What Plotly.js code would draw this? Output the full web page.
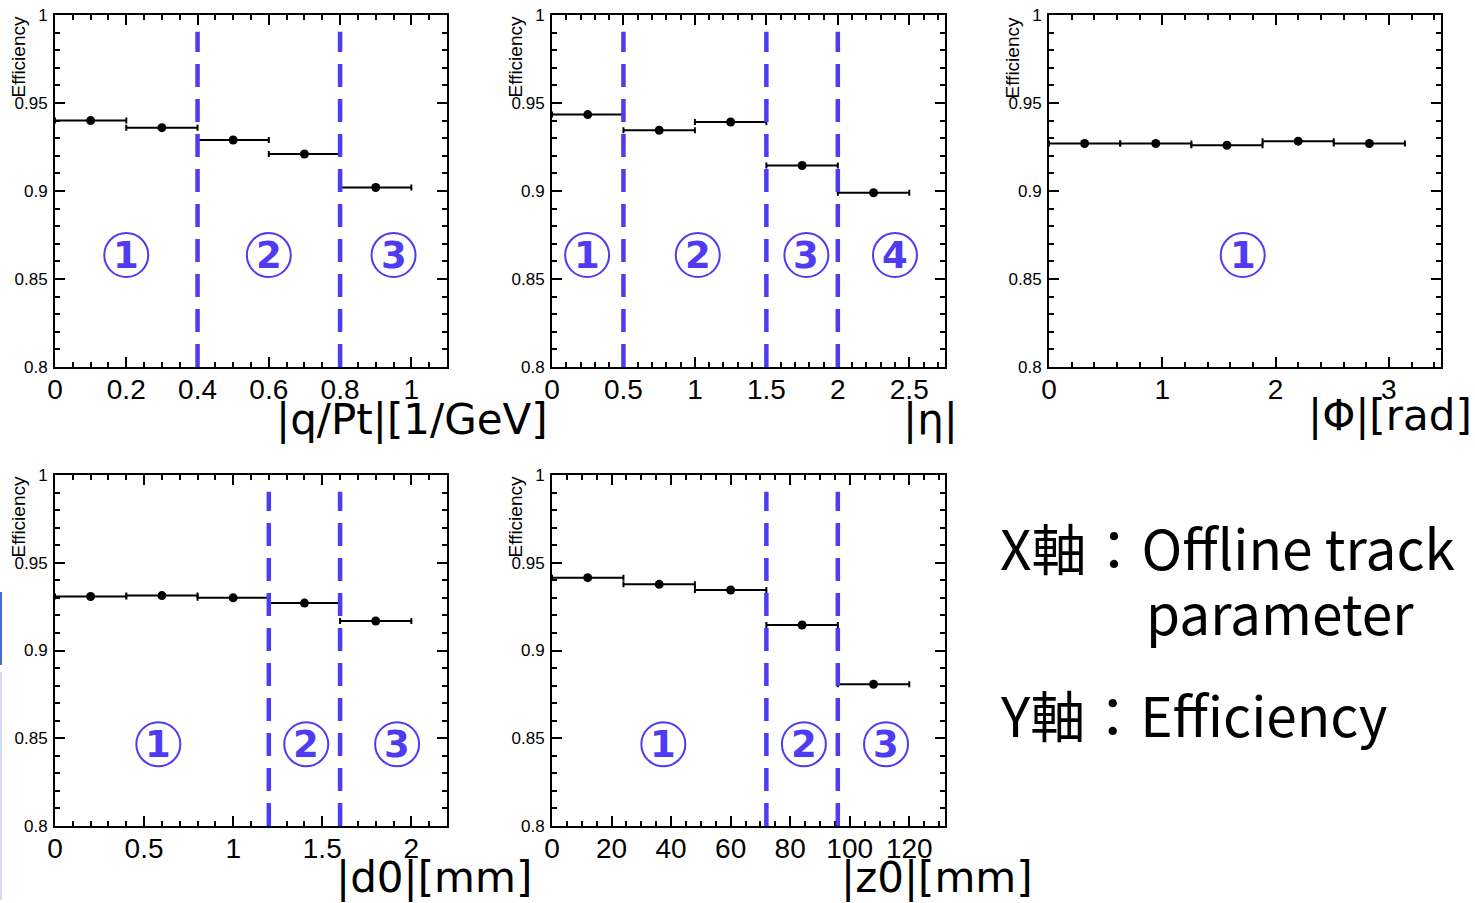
<!DOCTYPE html>
<html>
<head>
<meta charset="utf-8">
<script src="https://cdn.plot.ly/plotly-3.0.1.min.js"></script>
<style>html,body{margin:0;padding:0;background:#fff;}#chart{width:1475px;height:903px;}</style>
</head>
<body>
<div id="chart"></div>
<script>
// ---- data ----
const qptEdges = [0, 0.2, 0.4, 0.6, 0.8, 1.0];
const qptEff   = [0.940, 0.936, 0.929, 0.921, 0.902];
const qptCuts  = [0.4, 0.8];
const qptRegions = ['①', '②', '③'];

const etaEdges = [0, 0.5, 1.0, 1.5, 2.0, 2.5];
const etaEff   = [0.9434, 0.9345, 0.9392, 0.9145, 0.899];
const etaCuts  = [0.5, 1.5, 2.0];
const etaRegions = ['①', '②', '③', '④'];

const phiEdges = [0, 0.6283, 1.2566, 1.885, 2.5133, 3.1416];
const phiEff   = [0.927, 0.927, 0.926, 0.9283, 0.927];
const phiCuts  = [];
const phiRegions = ['①'];

const d0Edges = [0, 0.4, 0.8, 1.2, 1.6, 2.0];
const d0Eff   = [0.9308, 0.9313, 0.930, 0.927, 0.9168];
const d0Cuts  = [1.2, 1.6];
const d0Regions = ['①', '②', '③'];

const z0Edges = [0, 24, 48, 72, 96, 120];
const z0Eff   = [0.9415, 0.9377, 0.9345, 0.9145, 0.8808];
const z0Cuts  = [72, 96];
const z0Regions = ['①', '②', '③'];

const xTitles = ['|q/Pt|[1/GeV]', '|η|', '|Φ|[rad]', '|d0|[mm]', '|z0|[mm]'];
const yTitle = 'Efficiency';
const noteLines = ['X軸：Offline track', 'parameter', 'Y軸：Efficiency'];

// ---- layout helpers ----
const W = 1475, H = 903;
const px = v => v / W;
const py = v => 1 - v / H;
const BLUE = '#4f3cf2';

const panels = [
  {edges: qptEdges, eff: qptEff, cuts: qptCuts, regions: qptRegions, regX: [0.2, 0.6, 0.95],
   box: [55, 447, 15, 367], range: [0, 1.1], dtick: 0.2, minor: 0.05, title: xTitles[0], titleRight: 550, titleY: 420},
  {edges: etaEdges, eff: etaEff, cuts: etaCuts, regions: etaRegions, regX: [0.246, 1.02, 1.78, 2.4],
   box: [552, 945, 15, 367], range: [0, 2.75], dtick: 0.5, minor: 0.1, title: xTitles[1], titleRight: 960, titleY: 420},
  {edges: phiEdges, eff: phiEff, cuts: phiCuts, regions: phiRegions, regX: [1.71],
   box: [1049, 1441, 15, 367], range: [0, 3.46], dtick: 1, minor: 0.2, title: xTitles[2], titleRight: 1474, titleY: 415},
  {edges: d0Edges, eff: d0Eff, cuts: d0Cuts, regions: d0Regions, regX: [0.58, 1.41, 1.92],
   box: [55, 447, 475, 826], range: [0, 2.2], dtick: 0.5, minor: 0.1, title: xTitles[3], titleRight: 534, titleY: 877},
  {edges: z0Edges, eff: z0Eff, cuts: z0Cuts, regions: z0Regions, regX: [37.4, 84.6, 112.2],
   box: [552, 945, 475, 826], range: [0, 132], dtick: 20, minor: 5, title: xTitles[4], titleRight: 1035, titleY: 877}
];

const tickFont = {family: 'Liberation Sans, Arial, sans-serif', size: 28, color: '#000'};
const yTickFont = {family: 'Liberation Sans, Arial, sans-serif', size: 17, color: '#000'};

const data = [];
const layout = {
  width: W, height: H,
  margin: {l: 0, r: 0, t: 0, b: 0},
  paper_bgcolor: '#fff', plot_bgcolor: '#fff',
  showlegend: false,
  shapes: [], annotations: []
};

panels.forEach((p, i) => {
  const n = i + 1;
  const xa = 'xaxis' + (n === 1 ? '' : n);
  const ya = 'yaxis' + (n === 1 ? '' : n);
  const xr = 'x' + (n === 1 ? '' : n);
  const yr = 'y' + (n === 1 ? '' : n);
  const centers = [], half = [];
  for (let k = 0; k < p.eff.length; k++) {
    centers.push((p.edges[k] + p.edges[k + 1]) / 2);
    half.push((p.edges[k + 1] - p.edges[k]) / 2);
  }
  data.push({
    type: 'scatter', mode: 'markers', x: centers, y: p.eff, xaxis: xr, yaxis: yr,
    marker: {color: '#000', size: 9, symbol: 'circle'},
    error_x: {type: 'data', array: half, visible: true, color: '#000', thickness: 2, width: 3},
    error_y: {type: 'data', array: p.eff.map(() => 0.0006), visible: true, color: '#000', thickness: 2, width: 0},
    hoverinfo: 'skip'
  });
  layout[xa] = {
    domain: [px(p.box[0]), px(p.box[1])], anchor: yr, range: p.range,
    dtick: p.dtick, tick0: 0, ticks: 'inside', ticklen: 10, tickwidth: 2, tickcolor: '#000',
    minor: {dtick: p.minor, ticks: 'inside', ticklen: 5, tickwidth: 2, tickcolor: '#000'},
    showline: true, linewidth: 2, linecolor: '#000', mirror: 'ticks',
    showgrid: false, zeroline: false, tickfont: tickFont, ticklabelstandoff: -4, fixedrange: true
  };
  layout[ya] = {
    domain: [py(p.box[3]), py(p.box[2])], anchor: xr, range: [0.8, 1.0],
    dtick: 0.05, tick0: 0.8, ticks: 'inside', ticklen: 10, tickwidth: 2, tickcolor: '#000',
    minor: {dtick: 0.01, ticks: 'inside', ticklen: 5, tickwidth: 2, tickcolor: '#000'},
    showline: true, linewidth: 2, linecolor: '#000', mirror: 'ticks',
    showgrid: false, zeroline: false, tickfont: yTickFont, ticklabelstandoff: 2, fixedrange: true
  };
  // dashed cut lines
  p.cuts.forEach(c => {
    layout.shapes.push({type: 'line', xref: xr, yref: yr, x0: c, x1: c, y0: 0.8, y1: 0.9905,
      line: {color: BLUE, width: 4.5, dash: '23px,12px'}});
  });
  // region labels: circle + bold digit
  p.regions.forEach((r, k) => {
    const yv = i < 3 ? 0.8636 : 0.8466;
    layout.shapes.push({type: 'circle', xref: xr, yref: yr, xsizemode: 'pixel', ysizemode: 'pixel',
      xanchor: p.regX[k], yanchor: yv, x0: -22, x1: 22, y0: -22, y1: 22,
      line: {color: BLUE, width: 2}, fillcolor: 'rgba(0,0,0,0)'});
    layout.annotations.push({xref: xr, yref: yr, x: p.regX[k], y: yv, showarrow: false,
      text: String(k + 1), xanchor: 'center', yanchor: 'middle', yshift: 0,
      font: {family: 'DejaVu Sans, Verdana, sans-serif', size: 37, weight: 700, color: BLUE}});
  });
  // tiny y title
  layout.annotations.push({xref: 'paper', yref: 'paper', x: px(p.box[0] - 37), y: py(p.box[2]),
    xanchor: 'center', yanchor: 'top', textangle: -90, showarrow: false, text: yTitle,
    font: {family: 'Liberation Sans, Arial, sans-serif', size: 19, color: '#000'}});
  // x title
  layout.annotations.push({xref: 'paper', yref: 'paper', x: px(p.titleRight), y: py(p.titleY),
    xanchor: 'right', yanchor: 'middle', showarrow: false, text: p.title,
    font: {family: 'DejaVu Sans, Verdana, sans-serif', size: 42, color: '#000'}});
});

// note text
const noteFont = {family: 'Noto Sans CJK JP, Noto Sans, sans-serif', size: 55, color: '#000'};
layout.annotations.push({xref: 'paper', yref: 'paper', x: px(998), y: py(546), xanchor: 'left', yanchor: 'middle',
  showarrow: false, text: noteLines[0], font: noteFont});
layout.annotations.push({xref: 'paper', yref: 'paper', x: px(1144), y: py(611), xanchor: 'left', yanchor: 'middle',
  showarrow: false, text: noteLines[1], font: noteFont});
layout.annotations.push({xref: 'paper', yref: 'paper', x: px(998), y: py(713), xanchor: 'left', yanchor: 'middle',
  showarrow: false, text: noteLines[2], font: noteFont});

// slide edge strip at left
layout.shapes.push({type: 'rect', xref: 'paper', yref: 'paper', x0: 0, x1: px(2), y0: py(665), y1: py(592),
  line: {width: 0}, fillcolor: '#3f6fd6'});
layout.shapes.push({type: 'rect', xref: 'paper', yref: 'paper', x0: 0, x1: px(2), y0: py(900), y1: py(672),
  line: {width: 0}, fillcolor: '#d4dcf5'});

Plotly.newPlot('chart', data, layout, {displayModeBar: false, staticPlot: true});
</script>
</body>
</html>
